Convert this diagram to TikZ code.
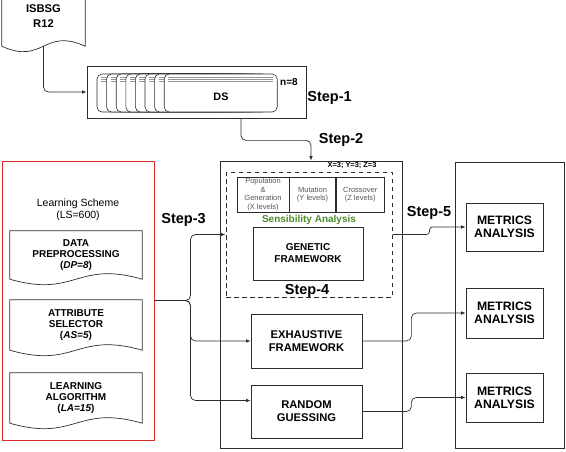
\documentclass[tikz,border=0pt]{standalone}
\usepackage{fontspec}
\setmainfont{Liberation Sans}
\usetikzlibrary{arrows.meta, positioning, calc}
\definecolor{lineColor}{RGB}{45,45,45}
\definecolor{schemeColor}{RGB}{222,45,45}
\definecolor{paramColor}{RGB}{85,85,85}
\definecolor{sensColor}{RGB}{72,140,38}
\definecolor{diskColor}{RGB}{150,150,150}

% document outline with a wavy bottom around a named node
\newcommand{\docframe}[1]{%
  \draw[lineColor, line width=0.7pt] (#1.south west) -- (#1.north west) -- (#1.north east) -- (#1.south east)
    .. controls ($(#1.south)+(0,-19)$) and ($(#1.south)+(0,19)$) .. (#1.south west);
}

\begin{document}
\begin{tikzpicture}[
    x=1pt, y=-1pt,
    every node/.style={font=\bfseries, text=black},
    box/.style={draw=lineColor, line width=0.7pt, align=center},
    frame/.style={draw=lineColor, line width=0.7pt},
    doc/.style={align=center, font=\bfseries\fontsize{10}{11}\selectfont},
    param/.style={draw=lineColor, line width=0.6pt, minimum height=35, align=center, inner sep=0pt, text=paramColor, font=\fontsize{7.5}{8.5}\selectfont},
    steplabel/.style={anchor=base, font=\bfseries\fontsize{14.5}{16}\selectfont},
    link/.style={lineColor, line width=0.7pt, rounded corners=5, -{Latex[length=4.5pt,width=3.5pt]}},
    disk/.style={draw=lineColor, line width=0.6pt, fill=white, rounded corners=5},
    diskline/.style={diskColor, line width=0.4pt}
]
\useasboundingbox (0,0) rectangle (566,451);

% Source data set
\node[doc, minimum width=83, minimum height=59, font=\bfseries\fontsize{11.2}{15}\selectfont] (isbsg) at (43.5,16.5) {ISBSG\\R12};
\docframe{isbsg}

% Step-1: the data sets
\node[frame, minimum width=219, minimum height=52] (dsbox) at (196.5,92) {};
\foreach \i in {0,...,7} {
    \draw[disk] ({97+\i*9.6},74) rectangle ++(113,38);
    \draw[diskline] ({101+\i*9.6},77) -- ++(105,0);
    \draw[diskline] ({101+\i*9.6},79) -- ++(105,0);
    \draw[diskline] ({101+\i*9.6},81) -- ++(105,0);
}
\node[font=\bfseries\fontsize{10.8}{12}\selectfont] (ds) at (221,97) {DS};
\node[font=\bfseries\fontsize{10}{12}\selectfont] (nsets) at (289,82.5) {n=8};
\node[steplabel] (step1) at (329.5,101.7) {Step-1};
\node[steplabel] (step2) at (341,143) {Step-2};

% Learning schemes
\node[draw=schemeColor, line width=1pt, minimum width=152, minimum height=279] (ls) at (78,300.5) {};
\node[align=center, font=\fontsize{10.5}{12}\selectfont] (lstitle) at (78,210) {Learning Scheme\\(LS=600)};
\node[doc, minimum width=132, minimum height=48] (dp) at (76,255) {DATA\\PREPROCESSING\\(\textit{DP=8})};
\docframe{dp}
\node[doc, minimum width=132, minimum height=50] (as) at (76,325) {ATTRIBUTE\\SELECTOR\\(\textit{AS=5})};
\docframe{as}
\node[doc, minimum width=132, minimum height=50] (la) at (76,398) {LEARNING\\ALGORITHM\\(\textit{LA=15})};
\docframe{la}
\node[steplabel] (step3) at (183.5,223) {Step-3};

% Frameworks
\node[frame, minimum width=182, minimum height=287] (mid) at (311,304.5) {};
\node[font=\bfseries\fontsize{7.4}{9}\selectfont] (levels) at (352,165) {X=3; Y=3; Z=3};
\node[draw=lineColor, line width=1pt, dash pattern=on 4.5pt off 3.5pt, minimum width=166, minimum height=125] (sens) at (309,234.5) {};
\node[param, minimum width=52] (pop) at (263,194.5) {Population\\\&\\Generation\\(X levels)};
\node[param, minimum width=46, right=0pt of pop] (mut) {Mutation\\(Y levels)};
\node[param, minimum width=48, right=0pt of mut] (cro) {Crossover\\(Z levels)};
\node[text=sensColor, font=\bfseries\fontsize{10}{12}\selectfont] (sa) at (309,219.5) {Sensibility Analysis};
\node[box, minimum width=110, minimum height=53, font=\bfseries\fontsize{10}{12}\selectfont] (ga) at (308,253.5) {GENETIC\\FRAMEWORK};
\node[steplabel] (step4) at (307,294) {Step-4};
\node[box, minimum width=111, minimum height=54, font=\bfseries\fontsize{11.2}{13}\selectfont] (exh) at (306.5,341) {EXHAUSTIVE\\FRAMEWORK};
\node[box, minimum width=111, minimum height=53, font=\bfseries\fontsize{11.2}{13}\selectfont] (rg) at (306.5,411.5) {RANDOM\\GUESSING};

% Step-5: metrics
\node[steplabel] (step5) at (429,216.7) {Step-5};
\node[frame, minimum width=109, minimum height=286] (mbox) at (509.5,305) {};
\node[box, minimum width=77, minimum height=48, font=\bfseries\fontsize{12.2}{13}\selectfont] (ma1) at (504.5,227) {METRICS\\ANALYSIS};
\node[box, minimum width=77, minimum height=50, font=\bfseries\fontsize{12.2}{13}\selectfont] (ma2) at (504.5,313) {METRICS\\ANALYSIS};
\node[box, minimum width=77, minimum height=49, font=\bfseries\fontsize{12.2}{13}\selectfont] (ma3) at (504.5,397.5) {METRICS\\ANALYSIS};

% Connections
\draw[link] (isbsg.south) |- (dsbox.west);
\draw[link] ([xshift=44.5pt]dsbox.south) -- ++(0,22) -| (mid.north);
\draw[link] (ls.east) -- ++(36,0) |- (sens.west);
\draw[link] (ls.east) -- ++(36,0) |- (exh.west);
\draw[link] (ls.east) -- ++(36,0) |- ([yshift=11pt]rg.west);
\draw[link, rounded corners=3] (sens.east) -- ++(37,0) |- (ma1.west);
\draw[link] (exh.east) -- ++(49,0) |- (ma2.west);
\draw[link] (rg.east) -- ++(49,0) |- (ma3.west);

\end{tikzpicture}
\end{document}
